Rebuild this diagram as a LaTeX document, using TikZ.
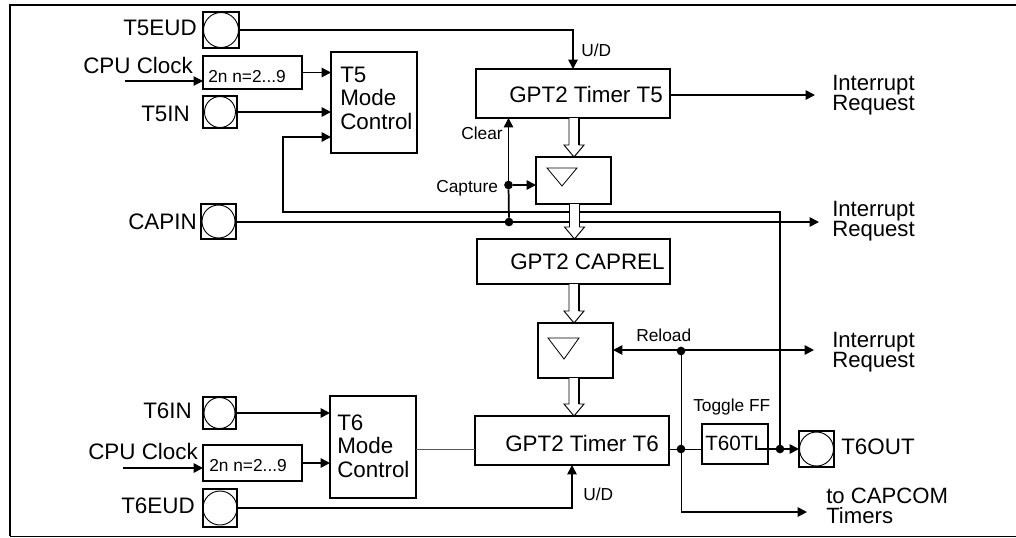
\documentclass[tikz,border=0pt]{standalone}
\usepackage{fontspec}
\setmainfont{Liberation Sans}
\usetikzlibrary{arrows.meta,calc}
\lineskiplimit=-20pt
\tikzset{
  x=0.75pt,y=-0.75pt,
  wire/.style={line width=1.3pt},
  thinwire/.style={line width=0.7pt},
  arr/.style={wire,-{Triangle[length=7pt,width=7pt]}},
  thinarr/.style={line width=0.8pt,-{Triangle[length=7pt,width=7pt]}},
  blockbox/.style={draw,line width=1.3pt,inner sep=0pt,outer sep=0pt},
  padring/.style={draw,circle,line width=0.7pt,inner sep=0pt,outer sep=0pt},
  junction/.style={circle,fill=black,inner sep=0pt,minimum size=6.5pt,outer sep=0pt},
  biglabel/.style={anchor=base west,inner sep=0pt,font=\fontsize{16.8}{18}\selectfont},
  smalllabel/.style={anchor=base west,inner sep=0pt,font=\fontsize{13}{15}\selectfont},
  stacklabel/.style={anchor=base west,inner sep=0pt,align=left,font=\fontsize{16.6}{14.3}\selectfont},
  modelabel/.style={anchor=base west,inner sep=0pt,align=left,font=\fontsize{16.8}{17.6}\selectfont},
}
% \blk{name}{x1}{y1}{x2}{y2}
\newcommand\blk[5]{\node[blockbox,minimum width={(#4-#2)*0.75pt},minimum height={(#5-#3)*0.75pt}] (#1) at ({(#2+#4)/2},{(#3+#5)/2}) {};}
% \pad{name}{x1}{y1}{x2}{y2}{diameter}
\newcommand\pad[6]{\blk{#1}{#2}{#3}{#4}{#5}\node[padring,minimum size={#6*0.75pt}] (#1ring) at (#1) {};}
% \hollow{from}{to}{dx}
\newcommand\hollow[3]{%
  \draw[line width=0.7pt,fill=white]
    ($(#1.south)+(#3-5,0)$) -- ($(#2.north -| #1.south)+(#3-5,-12)$) -- ($(#2.north -| #1.south)+(#3-10,-12)$)
    -- ($(#2.north -| #1.south)+(#3,0)$) -- ($(#2.north -| #1.south)+(#3+10,-12)$) -- ($(#2.north -| #1.south)+(#3+5,-12)$)
    -- ($(#1.south)+(#3+5,0)$);
  \draw[wire] ($(#1.south)+(#3+5,0)$) -- ($(#2.north -| #1.south)+(#3+5,-12)$);
}
\begin{document}
\begin{tikzpicture}
\useasboundingbox (0,0) rectangle (1016,537);
% frame
\draw[line width=1.4pt] (1016,5) -- (10,5) -- (10,536);
\draw[line width=0.7pt] (10,536) -- (1016,536);

% pads
\pad{pFiveEud}{203}{12}{239}{48}{35}
\pad{pFiveIn}{203}{96}{237}{128}{31}
\pad{pCapin}{201}{204}{236}{239}{33}
\pad{pSixIn}{203}{397}{236}{429}{31}
\pad{pSixEud}{203}{489}{237}{527}{34}
\pad{pSixOut}{799}{431}{834}{467}{34}

% blocks
\blk{preFive}{203}{56}{302}{89}
\blk{preSix}{203}{445}{302}{481}
\blk{modeFive}{331}{52}{417}{153}
\blk{modeSix}{330}{396}{416}{498}
\blk{timerFive}{476}{69}{670}{118}
\blk{latchOne}{536}{157}{611}{204}
\blk{caprel}{477}{239}{670}{284}
\blk{latchTwo}{538}{323}{613}{378}
\blk{timerSix}{475}{416}{669}{465}
\blk{toggle}{702}{424}{768}{464}

% triangles
\draw[line width=0.6pt] (547,168) -- (577,168) -- (562,186) -- cycle;
\draw[line width=0.6pt] (548,338) -- (579,338) -- (564,359) -- cycle;

% free ends and junctions
\coordinate (cpuFive) at (125,81);
\coordinate (cpuSix) at (123,468);
\coordinate (irqOne) at (815,95);
\coordinate (irqTwo) at (819,222);
\coordinate (irqThree) at (814,350);
\coordinate (capcom) at (807,512);
\coordinate (fbCorner) at (283,212);
\coordinate (fbTarget) at (331,137);
\coordinate (toggleOut) at (758,449);
\node[junction] (dClear) at (509,222) {};
\node[junction] (dCapture) at (508.5,185) {};
\node[junction] (dReload) at (681,351) {};
\node[junction] (dTimer) at (681,449) {};
\node[junction] (dOut) at (780,449) {};

% connectors
\draw[thinarr] (cpuFive) -- (cpuFive -| preFive.west);
\draw[arr] (preFive.east) -- (preFive.east -| modeFive.west);
\draw[arr] (pFiveIn.east) -- (pFiveIn.east -| modeFive.west);
\draw[arr] (pFiveEud.east) -| (timerFive.north);
\draw[arr] (timerFive.east |- irqOne) -- (irqOne);
\draw[arr] (dOut) |- (fbCorner) |- (fbTarget);
\draw[arr] (pCapin.east |- irqTwo) -- (irqTwo);
\draw[wire] (dClear) -- (dCapture);
\draw[arr] (dCapture) -- (dCapture |- timerFive.south);
\draw[arr] (dCapture) -- (latchOne.west |- dCapture);
\draw[wire,{Triangle[length=7pt,width=7pt]}-{Triangle[length=7pt,width=7pt]}] (latchTwo.east |- irqThree) -- (irqThree);
\draw[wire] (dReload) -- (dReload |- irqThree);
\draw[thinwire] (dReload) -- (dTimer);
\draw[thinwire] (dTimer) -- (capcom -| dTimer);
\draw[arr] (capcom -| dTimer) -- (capcom);
\draw[thinwire] (dTimer -| timerSix.east) -- (dTimer);
\draw[thinwire] (dTimer) -- (dTimer -| toggle.west);
\draw[wire] (toggleOut) -- (dOut);
\draw[arr] (dOut) -- (pSixOut.west |- dOut);
\draw[arr] (pSixIn.east) -- (pSixIn.east -| modeSix.west);
\draw[arr] (cpuSix) -- (cpuSix -| preSix.west);
\draw[arr] (preSix.east) -- (preSix.east -| modeSix.west);
\draw[line width=0.7pt,black!65] (modeSix.east |- dTimer) -- (timerSix.west |- dTimer);
\draw[arr] (pSixEud.east) -| (timerSix.south);

% hollow bus arrows
\hollow{timerFive}{latchOne}{1}
\hollow{latchOne}{caprel}{1}
\hollow{caprel}{latchTwo}{0.5}
\hollow{latchTwo}{timerSix}{-1.5}

% labels
\node[biglabel] (lFiveEud) at (123,35) {T5EUD};
\node[biglabel] (lCpuFive) at (83,73) {CPU Clock};
\node[smalllabel] (lPreFive) at (208,82) {2n n=2...9};
\node[biglabel] (lFiveIn) at (141,121) {T5IN};
\node[biglabel] (lCapin) at (128,229) {CAPIN};
\node[modelabel] (lModeFive) at (340,129) {T5\\Mode\\Control};
\node[smalllabel] (lUdFive) at (581,56) {U/D};
\node[biglabel] (lTimerFive) at (509,102) {GPT2 Timer T5};
\node[smalllabel] (lClear) at (461,139) {Clear};
\node[smalllabel] (lCapture) at (436,192) {Capture};
\node[biglabel] (lCaprel) at (510,269) {GPT2 CAPREL};
\node[smalllabel] (lReload) at (636,341) {Reload};
\node[smalllabel] (lToggle) at (693,411) {Toggle FF};
\node[biglabel,font=\fontsize{15.5}{17}\selectfont] (lToggleBox) at (705,450) {T60TL};
\node[biglabel] (lTimerSix) at (505,451) {GPT2 Timer T6};
\node[biglabel] (lSixIn) at (143,418) {T6IN};
\node[biglabel] (lCpuSix) at (88,459) {CPU Clock};
\node[smalllabel] (lPreSix) at (209,471) {2n n=2...9};
\node[biglabel] (lSixEud) at (121,513) {T6EUD};
\node[modelabel] (lModeSix) at (337,477) {T6\\Mode\\Control};
\node[smalllabel] (lUdSix) at (583,500) {U/D};
\node[stacklabel] (lIrqOne) at (832,110) {Interrupt\\Request};
\node[stacklabel] (lIrqTwo) at (832,236) {Interrupt\\Request};
\node[stacklabel] (lIrqThree) at (832,367) {Interrupt\\Request};
\node[biglabel] (lSixOut) at (841,454) {T6OUT};
\node[stacklabel,font=\fontsize{16.6}{15}\selectfont] (lCapcom) at (826,523) {to CAPCOM\\Timers};
\end{tikzpicture}
\end{document}
